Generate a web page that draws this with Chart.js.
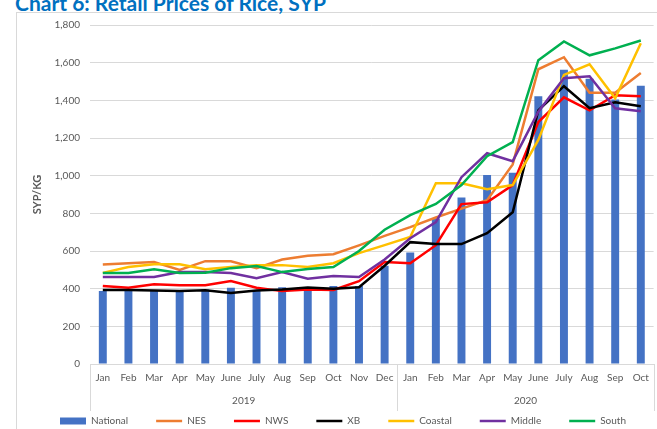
<!DOCTYPE html>
<html lang="en">

<head>
    <meta charset="utf-8">
    <title>Retail Prices of Rice, SYP</title>
    <script src="https://cdn.jsdelivr.net/npm/chart.js"></script>
    <style>
        html, body { margin: 0; padding: 0; overflow: hidden; background: #fff; }
        #frame { position: absolute; left: 16px; top: 12px; width: 700px; height: 500px; border: 1px solid #d9d9d9; box-sizing: border-box; }
        #title { position: absolute; left: 15px; top: -8px; font: bold 21px Lato, sans-serif; color: #0070c0; line-height: 21px; white-space: nowrap; }
        #wrap { position: absolute; left: 0; top: 0; width: 657px; height: 436px; }
    </style>
</head>

<body>
    <div id="frame"></div>
    <div id="title">Chart 6: Retail Prices of Rice, SYP</div>
    <div id="wrap"><canvas id="chart"></canvas></div>

    <script>
        // months (2019 Jan - 2020 Oct)
        const months = ['Jan', 'Feb', 'Mar', 'Apr', 'May', 'June', 'July', 'Aug', 'Sep', 'Oct', 'Nov', 'Dec',
            'Jan', 'Feb', 'Mar', 'Apr', 'May', 'June', 'July', 'Aug', 'Sep', 'Oct'];
        const years = ['2019', '2020'];
        const monthsPerYear = [12, 10];

        const national = [387, 395, 392, 390, 395, 405, 393, 407, 398, 414, 414, 522, 592, 772, 884, 1004, 1016, 1422, 1563, 1515, 1405, 1477];
        const nes = [528, 535, 541, 500, 546, 546, 509, 555, 575, 583, 630, 680, 727, 778, 825, 870, 1060, 1565, 1629, 1440, 1440, 1545];
        const nws = [414, 405, 424, 418, 418, 440, 405, 387, 395, 393, 440, 541, 535, 631, 849, 859, 950, 1285, 1416, 1347, 1427, 1422];
        const xb = [393, 393, 390, 388, 392, 377, 390, 395, 406, 400, 408, 522, 647, 637, 637, 695, 806, 1347, 1475, 1358, 1390, 1369];
        const coastal = [484, 515, 530, 530, 503, 515, 525, 525, 515, 535, 589, 631, 674, 960, 960, 928, 950, 1190, 1535, 1591, 1411, 1703];
        const middle = [462, 462, 462, 488, 488, 483, 456, 488, 453, 467, 462, 555, 668, 753, 992, 1119, 1077, 1340, 1517, 1528, 1358, 1342];
        const south = [483, 483, 503, 483, 485, 509, 520, 488, 504, 515, 600, 713, 790, 850, 950, 1103, 1178, 1613, 1713, 1639, 1676, 1718];

        const grey = '#595959';
        const lineColor = '#d9d9d9';

        // year labels under the month labels
        const yearAxis = {
            id: 'yearAxis',
            afterDraw(chart) {
                const ctx = chart.ctx;
                const x = chart.scales.x;
                const step = x.getPixelForValue(1) - x.getPixelForValue(0);
                const top = chart.chartArea.bottom;
                ctx.save();
                ctx.strokeStyle = lineColor;
                ctx.lineWidth = 1;
                ctx.fillStyle = grey;
                ctx.font = '10px Lato, sans-serif';
                ctx.textAlign = 'center';
                ctx.textBaseline = 'middle';
                let start = 0;
                let edges = [];
                years.forEach((yr, i) => {
                    const l = x.getPixelForValue(start) - step / 2;
                    const r = x.getPixelForValue(start + monthsPerYear[i] - 1) + step / 2;
                    edges.push(l, r);
                    ctx.fillText(yr, (l + r) / 2, top + 37);
                    start += monthsPerYear[i];
                });
                edges.forEach(e => {
                    const px = Math.min(Math.round(e), chart.width - 2) + 0.5;
                    ctx.beginPath();
                    ctx.moveTo(px, top);
                    ctx.lineTo(px, top + 47);
                    ctx.stroke();
                });
                ctx.restore();
            }
        };

        function lineSet(label, data, color, order) {
            return {
                type: 'line',
                label: label,
                data: data,
                borderColor: color,
                backgroundColor: color,
                borderWidth: 2.5,
                pointRadius: 0,
                pointStyle: 'line',
                tension: 0,
                order: order
            };
        }

        new Chart(document.getElementById('chart'), {
            type: 'bar',
            data: {
                labels: months,
                datasets: [{
                    label: 'National',
                    data: national,
                    backgroundColor: '#4472c4',
                    borderWidth: 0,
                    barPercentage: 0.31,
                    categoryPercentage: 1,
                    pointStyle: 'rect',
                    order: 10
                },
                lineSet('NES', nes, '#ed7d31', 6),
                lineSet('NWS', nws, '#ff0000', 5),
                lineSet('XB', xb, '#000000', 4),
                lineSet('Coastal', coastal, '#ffc000', 3),
                lineSet('Middle', middle, '#7030a0', 2),
                lineSet('South', south, '#00b050', 1)
                ]
            },
            options: {
                responsive: true,
                maintainAspectRatio: false,
                animation: false,
                layout: { padding: { left: 31, right: 2, top: 25, bottom: 0 } },
                plugins: {
                    tooltip: { enabled: false },
                    legend: {
                        position: 'bottom',
                        labels: {
                            usePointStyle: true,
                            pointStyleWidth: 26,
                            boxHeight: 7,
                            padding: 28,
                            color: grey,
                            font: { family: 'Lato', size: 10 },
                            sort: (a, b) => a.datasetIndex - b.datasetIndex
                        }
                    }
                },
                scales: {
                    x: {
                        grid: { display: false, drawTicks: false },
                        border: { display: true, color: lineColor },
                        ticks: {
                            color: grey,
                            font: { family: 'Lato', size: 10 },
                            autoSkip: false,
                            maxRotation: 0,
                            padding: 8
                        },
                        afterFit: s => { s.height = 24; }
                    },
                    y: {
                        min: 0,
                        max: 1800,
                        grid: { color: lineColor, drawTicks: false },
                        border: { display: false },
                        ticks: {
                            stepSize: 200,
                            padding: 10,
                            color: grey,
                            font: { family: 'Lato', size: 10 },
                            callback: v => v.toLocaleString('en-US')
                        },
                        title: {
                            display: true,
                            text: 'SYP/KG',
                            color: grey,
                            font: { family: 'Lato', size: 11, weight: 'bold' },
                            padding: 0
                        },
                        afterFit: s => { s.width = 59; }
                    }
                }
            },
            plugins: [yearAxis]
        });
    </script>
</body>

</html>
